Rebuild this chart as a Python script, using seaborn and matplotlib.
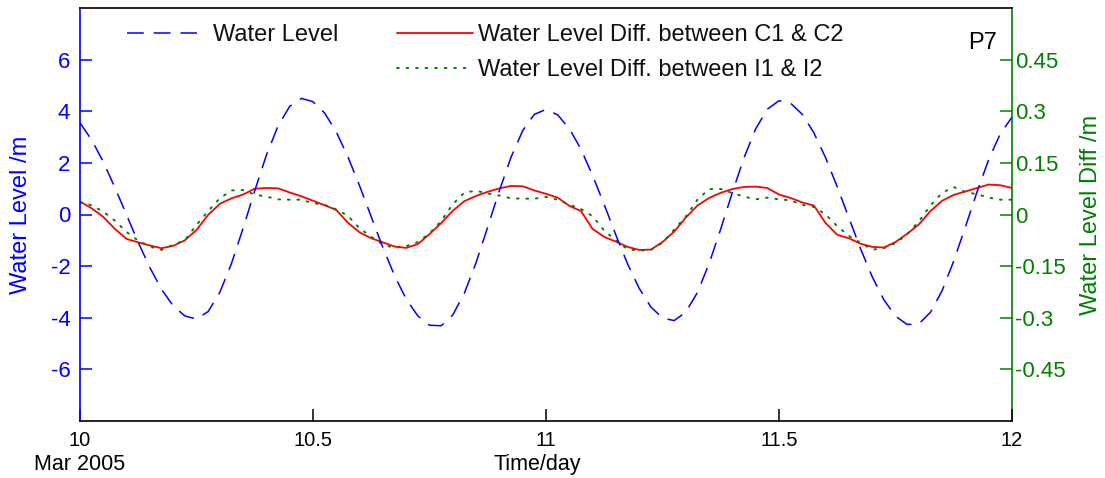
import numpy as np
import pandas as pd
import matplotlib
matplotlib.use("Agg")
import matplotlib.pyplot as plt
import seaborn as sns

# ---------------- data ----------------
time_day = [round(10 + 0.025 * i, 3) for i in range(81)]

water_level = [
    3.55, 2.89, 2.04, 1.04, -0.02, -1.08, -2.06, -2.90, -3.54, -3.93,
    -4.05, -3.76, -3.02, -1.90, -0.53, 0.92, 2.30, 3.43, 4.19, 4.50,
    4.37, 3.93, 3.20, 2.23, 1.11, -0.09, -1.28, -2.37, -3.28, -3.93,
    -4.29, -4.31, -3.89, -3.04, -1.86, -0.48, 0.93, 2.22, 3.25, 3.88,
    4.07, 3.86, 3.33, 2.53, 1.51, 0.38, -0.80, -1.91, -2.86, -3.58,
    -4.01, -4.11, -3.78, -3.02, -1.90, -0.56, 0.86, 2.20, 3.32, 4.08,
    4.41, 4.31, 3.88, 3.16, 2.20, 1.07, -0.13, -1.33, -2.41, -3.30,
    -3.94, -4.26, -4.24, -3.79, -2.95, -1.80, -0.48, 0.88, 2.13, 3.13,
    3.77,
]

diff_c1_c2 = [
    0.038, 0.018, -0.007, -0.042, -0.071, -0.081, -0.090, -0.098, -0.091, -0.075,
    -0.045, -0.001, 0.031, 0.047, 0.058, 0.075, 0.077, 0.076, 0.064, 0.053,
    0.040, 0.027, 0.013, -0.024, -0.052, -0.069, -0.081, -0.093, -0.097, -0.086,
    -0.057, -0.025, 0.011, 0.039, 0.054, 0.066, 0.076, 0.083, 0.082, 0.070,
    0.060, 0.049, 0.025, 0.010, -0.042, -0.065, -0.079, -0.094, -0.103, -0.102,
    -0.080, -0.050, -0.009, 0.026, 0.048, 0.063, 0.074, 0.080, 0.081, 0.077,
    0.058, 0.048, 0.035, 0.026, -0.025, -0.059, -0.069, -0.085, -0.094, -0.096,
    -0.080, -0.056, -0.029, 0.010, 0.040, 0.057, 0.067, 0.077, 0.087, 0.085,
    0.077,
]

diff_i1_i2 = [
    0.035, 0.027, 0.008, -0.018, -0.051, -0.076, -0.093, -0.103, -0.088, -0.075,
    -0.030, 0.010, 0.047, 0.070, 0.071, 0.058, 0.052, 0.044, 0.043, 0.043,
    0.033, 0.028, 0.015, -0.004, -0.040, -0.065, -0.087, -0.097, -0.092, -0.080,
    -0.055, -0.019, 0.030, 0.064, 0.069, 0.061, 0.055, 0.047, 0.046, 0.046,
    0.051, 0.043, 0.029, 0.016, -0.005, -0.047, -0.075, -0.101, -0.105, -0.103,
    -0.082, -0.044, -0.006, 0.043, 0.074, 0.074, 0.062, 0.052, 0.044, 0.049,
    0.044, 0.041, 0.028, 0.022, 0.000, -0.034, -0.062, -0.082, -0.102, -0.098,
    -0.083, -0.058, -0.020, 0.026, 0.063, 0.080, 0.065, 0.059, 0.049, 0.043,
    0.043,
]

x_ticks = [10, 10.5, 11, 11.5, 12]
x_tick_labels = ["10", "10.5", "11", "11.5", "12"]
left_ticks = [-6, -4, -2, 0, 2, 4, 6]
left_tick_labels = ["-6", "-4", "-2", "0", "2", "4", "6"]
right_ticks = [-0.45, -0.3, -0.15, 0, 0.15, 0.3, 0.45]
right_tick_labels = ["-0.45", "-0.3", "-0.15", "0", "0.15", "0.3", "0.45"]

labels = ["Water Level",
          "Water Level Diff. between C1 & C2",
          "Water Level Diff. between I1 & I2"]

df = pd.DataFrame({"t": time_day, "wl": water_level,
                   "c": diff_c1_c2, "i": diff_i1_i2})

# ---------------- style ----------------
sns.set_theme(style="white")
plt.rcParams["font.family"] = ["Liberation Sans", "DejaVu Sans"]

BLUE = "#0000ff"
RED = "#ff0000"
GREEN = "#008000"

fig = plt.figure(figsize=(11.05, 4.78), dpi=100)
ax = fig.add_axes([80 / 1105, 1 - 421 / 478, 932 / 1105, 413 / 478])
ax2 = ax.twinx()

# right axis series
sns.lineplot(data=df, x="t", y="c", ax=ax2, color=RED, linewidth=1.3,
             sort=False, legend=False)
sns.lineplot(data=df, x="t", y="i", ax=ax2, color=GREEN, linewidth=1.4,
             sort=False, legend=False)
l_c = ax2.lines[0]
l_i = ax2.lines[1]
l_i.set_linestyle((0, (0.9, 4.0)))
l_i.set_dash_capstyle("round")

# left axis series
sns.lineplot(data=df, x="t", y="wl", ax=ax, color=BLUE, linewidth=1.1,
             sort=False, legend=False)
l_w = ax.lines[0]
l_w.set_linestyle((0, (11, 6.5)))

ax.set_zorder(ax2.get_zorder() + 1)
ax.patch.set_visible(False)

# limits & ticks
ax.set_xlim(10, 12)
ax.set_ylim(-8, 8)
ax2.set_ylim(-0.6, 0.6)
ax.set_xticks(x_ticks)
ax.set_xticklabels(x_tick_labels)
ax.set_yticks(left_ticks)
ax.set_yticklabels(left_tick_labels)
ax2.set_yticks(right_ticks)
ax2.set_yticklabels(right_tick_labels)

ax.tick_params(axis="y", direction="in", length=8.5, width=1.1, colors=BLUE,
               labelsize=16, pad=7, left=True, right=False)
ax.tick_params(axis="x", direction="in", length=8.5, width=1.1, colors="black",
               labelsize=14.5, pad=7.5, top=False, bottom=True)
ax2.tick_params(axis="y", direction="in", length=8.5, width=1.1, colors=GREEN,
                labelsize=16, pad=2, right=True, left=False)

# spines
for sp in ["top", "bottom"]:
    ax.spines[sp].set_color("black")
    ax.spines[sp].set_linewidth(1.2)
ax.spines["left"].set_color(BLUE)
ax.spines["left"].set_linewidth(1.2)
ax.spines["right"].set_visible(False)
for sp in ["left", "top", "bottom"]:
    ax2.spines[sp].set_visible(False)
ax2.spines["right"].set_color(GREEN)
ax2.spines["right"].set_linewidth(1.2)

# labels
lab_y = -(454 - 421) / 413
ax.set_xlabel("Time/day", fontsize=15.5, color="black")
ax.xaxis.set_label_coords((537 - 80) / 932, lab_y)
ax.set_ylabel("Water Level /m", fontsize=17, color=BLUE)
ax.yaxis.set_label_coords(-0.0515, 0.5)
ax2.set_ylabel("Water Level Diff /m", fontsize=17, color=GREEN)
ax2.yaxis.set_label_coords(1.073, 0.5)

ax.text(0.0, lab_y, "Mar 2005", transform=ax.transAxes, ha="center",
        va="top", fontsize=15.5, color="black")
ax.text(0.984, 0.942, "P7", transform=ax.transAxes, ha="right", va="top",
        fontsize=17, color="black")

# legends
leg1 = ax.legend([l_w], [labels[0]], loc="upper left",
                 bbox_to_anchor=(127 / 1105, 1 - 24 / 478),
                 bbox_transform=fig.transFigure, frameon=False, fontsize=17,
                 handlelength=2.95, handletextpad=0.68, borderpad=0,
                 borderaxespad=0)
leg2 = ax2.legend([l_c, l_i], labels[1:], loc="upper left",
                  bbox_to_anchor=(397 / 1105, 1 - 24 / 478),
                  bbox_transform=fig.transFigure, frameon=False, fontsize=17,
                  handlelength=3.2, handletextpad=0.25, borderpad=0,
                  borderaxespad=0, labelspacing=0.56)
for t in leg1.get_texts() + leg2.get_texts():
    t.set_color("#111111")

fig.savefig("out.png", dpi=100, facecolor="white")
